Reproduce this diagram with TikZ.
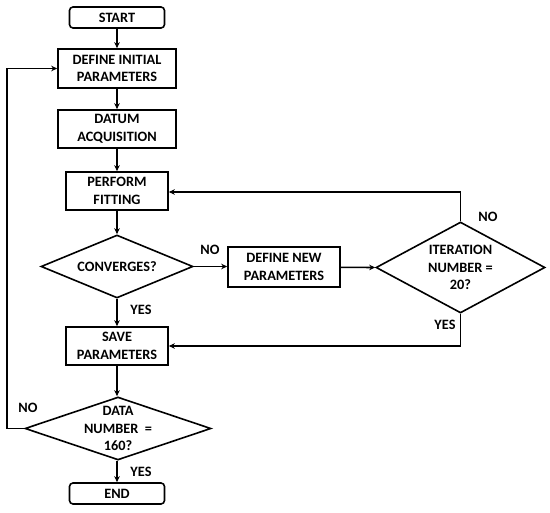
\documentclass[tikz,border=0pt]{standalone}
\usepackage{fontspec}
\setmainfont{Carlito}
\usetikzlibrary{shapes.geometric,arrows.meta}
\begin{document}
\begin{tikzpicture}[x=1pt,y=-1pt,
  font=\fontsize{14.3}{17.5}\selectfont\bfseries,
  box/.style={draw,line width=1.6pt,minimum width=#1,minimum height=39pt,align=center,inner sep=1pt},
  term/.style={draw,line width=1.6pt,rounded corners=3.5pt,minimum width=95pt,minimum height=21pt,inner sep=1pt},
  dia/.style={draw,diamond,line width=1.6pt,inner sep=0pt},
  txt/.style={align=center,inner sep=0pt},
  conn/.style={line width=1.6pt,-{Stealth[length=6pt,width=5.5pt]}},
  lab/.style={inner sep=0pt}]
\useasboundingbox (0,0) rectangle (550,513);
\node[term] (start) at (117,17.5) {START};
\node[box=118pt] (init) at (117,68.5) {DEFINE INITIAL\\PARAMETERS};
\node[box=118pt,minimum height=38pt] (datum) at (117,129) {DATUM\\ACQUISITION};
\node[box=102pt,minimum height=38pt] (fit) at (117,191) {PERFORM\\FITTING};
\node[dia,minimum width=152pt,minimum height=63pt] (conv) at (117,266.5) {};
\node[txt] (convt) at (conv.center) {CONVERGES?};
\node[box=112pt,minimum height=40pt] (newp) at (284,267) {DEFINE NEW\\PARAMETERS};
\node[dia,minimum width=169pt,minimum height=91pt] (iter) at (460.5,267.5) {};
\node[txt] (itert) at (iter.center) {ITERATION\\NUMBER =\\20?};
\node[box=102pt,minimum height=38pt] (save) at (117,346) {SAVE\\PARAMETERS};
\node[dia,minimum width=186pt,minimum height=63pt] (data) at (118,428.5) {};
\node[txt] (datat) at (data.center) {DATA\\NUMBER~~=\\160?};
\node[term] (end) at (117,493.5) {END};
\coordinate (itop) at (460.5,192);
\coordinate (ibot) at (460.5,346);
\coordinate (lbot) at (7,428.5);
\coordinate (ltop) at (7,68.5);
\draw[conn] (start) -- (init);
\draw[conn] (init) -- (datum);
\draw[conn] (datum) -- (fit);
\draw[conn] (fit) -- (conv.north -| fit);
\draw[conn] (conv.east) -- (newp.west |- conv.east);
\draw[conn] (newp) -- (iter.west);
\draw[conn] (iter.north) -- (itop) -- (fit.east |- itop);
\draw[conn] (iter.south) -- (ibot) -- (save.east |- ibot);
\draw[conn] (conv.south) -- (save.north -| conv.south);
\draw[conn] (save) -- (save |- data.north);
\draw[conn] (data.west) -- (lbot) -- (ltop) -- (init.west);
\draw[conn] (end |- data.south) -- (end);
\node[lab] (no1) at (210,250) {NO};
\node[lab] (yes1) at (141,310) {YES};
\node[lab] (no2) at (488,217) {NO};
\node[lab] (yes2) at (445,325) {YES};
\node[lab] (no3) at (28,408) {NO};
\node[lab] (yes3) at (141,472) {YES};
\end{tikzpicture}
\end{document}
